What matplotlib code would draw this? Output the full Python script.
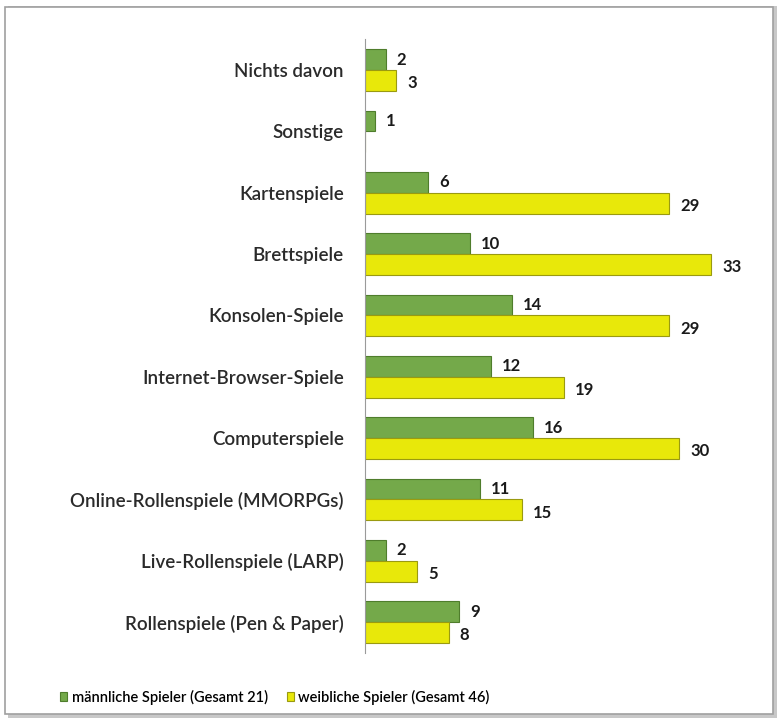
import numpy as np
import matplotlib.pyplot as plt
from matplotlib.patches import Rectangle

plt.rcParams['font.family'] = ['Lato', 'DejaVu Sans']

# ==== Daten ====
categories = ['Rollenspiele (Pen & Paper)', 'Live-Rollenspiele (LARP)',
              'Online-Rollenspiele (MMORPGs)', 'Computerspiele',
              'Internet-Browser-Spiele', 'Konsolen-Spiele', 'Brettspiele',
              'Kartenspiele', 'Sonstige', 'Nichts davon']
maennlich = [9, 2, 11, 16, 12, 14, 10, 6, 1, 2]
weiblich = [8, 5, 15, 30, 19, 29, 33, 29, None, 3]
label_m = 'männliche Spieler (Gesamt 21)'
label_w = 'weibliche Spieler (Gesamt 46)'

fig = plt.figure(figsize=(7.81, 7.24), dpi=100)

# Rahmen mit Schatten
fig.patches.append(Rectangle((0.010, 0.008), 0.985, 0.984, transform=fig.transFigure,
                             facecolor='#c8c8c8', edgecolor='none', zorder=-3))
fig.patches.append(Rectangle((0.007, 0.014), 0.983, 0.976, transform=fig.transFigure,
                             facecolor='white', edgecolor='#a0a0a0', lw=1.2, zorder=-2))

ax = fig.add_axes([0.467, 0.0985, 0.47, 0.847])
ax.patch.set_alpha(0)

y = np.arange(len(categories))
h = 0.34
m_vals = [v if v is not None else 0 for v in maennlich]
w_vals = [v if v is not None else 0 for v in weiblich]

ax.barh(y + h / 2, m_vals, height=h, color='#74a94a', edgecolor='#4f7d2c', lw=0.8,
        label=label_m)
ax.barh(y - h / 2, w_vals, height=h, color='#e8e80a', edgecolor='#9a9a10', lw=0.8,
        label=label_w)

for i in range(len(categories)):
    if maennlich[i] is not None:
        ax.annotate(str(maennlich[i]), (maennlich[i], y[i] + h / 2), xytext=(8, 0),
                    textcoords='offset points', va='center', ha='left',
                    fontsize=12, fontweight='bold', color='#1a1a1a')
    if weiblich[i] is not None:
        ax.annotate(str(weiblich[i]), (weiblich[i], y[i] - h / 2), xytext=(8, -2),
                    textcoords='offset points', va='center', ha='left',
                    fontsize=12, fontweight='bold', color='#1a1a1a')

ax.set_xlim(0, 35)
ax.set_ylim(-0.5, 9.5)
ax.set_yticks(y)
ax.set_yticklabels(categories, fontsize=13.5, color='#2a2a2a', fontweight='semibold')
ax.tick_params(axis='y', length=0, pad=15)
ax.set_xticks([])
for s in ['top', 'right', 'bottom']:
    ax.spines[s].set_visible(False)
ax.spines['left'].set_color('#9a9a9a')

fig.legend(loc='center', bbox_to_anchor=(0.352, 0.037), ncol=2, frameon=False,
           prop={'size': 10.5, 'weight': 'semibold'}, handlelength=0.5, handleheight=0.5,
           handletextpad=0.3, columnspacing=1.3)

plt.savefig('out.png', dpi=100)
